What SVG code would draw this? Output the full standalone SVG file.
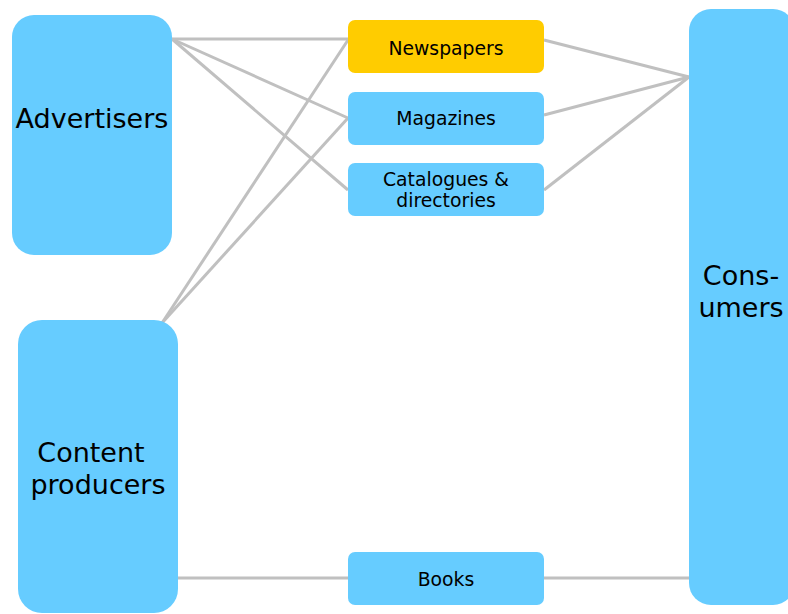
<svg xmlns="http://www.w3.org/2000/svg" width="788" height="614" viewBox="0 0 788 614">
<style>
.big{fill:#66ccff}
.small{fill:#66ccff}
.hl{fill:#ffcc00}
.edge{stroke:#c0c0c0;stroke-width:3;fill:none}
text{font-family:"DejaVu Sans","Liberation Sans",sans-serif;fill:#000;text-anchor:middle}
.bt{font-size:27px}
.st{font-size:18.8px}
</style>
<rect width="788" height="614" fill="#fff"/>
<g id="connectors">
<line class="edge" x1="172" y1="39" x2="348" y2="39"/>
<line class="edge" x1="172" y1="39" x2="348" y2="118"/>
<line class="edge" x1="172" y1="39" x2="348" y2="190"/>
<line class="edge" x1="162" y1="323" x2="348" y2="40"/>
<line class="edge" x1="162" y1="323" x2="348" y2="118"/>
<line class="edge" x1="544" y1="40" x2="689" y2="77"/>
<line class="edge" x1="544" y1="115" x2="689" y2="77"/>
<line class="edge" x1="544" y1="190" x2="689" y2="77"/>
<line class="edge" x1="178" y1="578" x2="348" y2="578"/>
<line class="edge" x1="544" y1="578" x2="689" y2="578"/>
</g>
<g id="advertisers">
<rect class="big" x="12" y="15" width="160" height="240" rx="22"/>
<text class="bt" x="92" y="128">Advertisers</text>
</g>
<g id="content-producers">
<rect class="big" x="18" y="320" width="160" height="293" rx="24"/>
<text class="bt" x="91" y="462">Content</text>
<text class="bt" x="98" y="494">producers</text>
</g>
<g id="consumers">
<rect class="big" x="689" y="9" width="106" height="596" rx="22"/>
<text class="bt" x="741" y="285">Cons-</text>
<text class="bt" x="741" y="317">umers</text>
</g>
<g id="newspapers">
<rect class="hl" x="348" y="20" width="196" height="53" rx="7"/>
<text class="st" x="446" y="55">Newspapers</text>
</g>
<g id="magazines">
<rect class="small" x="348" y="92" width="196" height="53" rx="7"/>
<text class="st" x="446" y="125">Magazines</text>
</g>
<g id="catalogues">
<rect class="small" x="348" y="163" width="196" height="53" rx="7"/>
<text class="st" x="446" y="186">Catalogues &amp;</text>
<text class="st" x="446" y="207">directories</text>
</g>
<g id="books">
<rect class="small" x="348" y="552" width="196" height="53" rx="7"/>
<text class="st" x="446" y="586">Books</text>
</g>
</svg>
